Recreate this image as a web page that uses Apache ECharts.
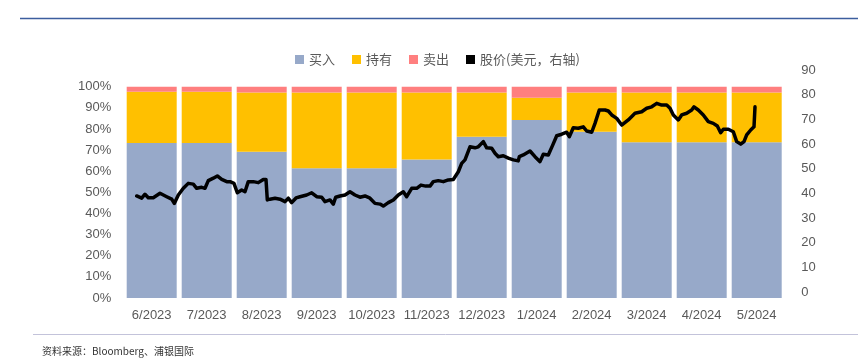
<!DOCTYPE html>
<html>
<head>
<meta charset="utf-8">
<script src="https://cdn.jsdelivr.net/npm/echarts@6/dist/echarts.min.js"></script>
<style>html,body{margin:0;padding:0;background:#fff;}#c{width:858px;height:362px;}</style>
</head>
<body>
<div id="c"></div>
<script>
var categories = ['6/2023','7/2023','8/2023','9/2023','10/2023','11/2023','12/2023','1/2024','2/2024','3/2024','4/2024','5/2024'];
var buyPct  = [73.4, 73.4, 69.2, 61.4, 61.4, 65.6, 76.3, 84.2, 78.7, 73.7, 73.7, 73.7];
var holdPct = [24.2, 24.2, 28.1, 35.9, 35.9, 31.7, 21.0, 10.6, 18.6, 23.6, 23.6, 23.6];
var sellPct = [2.4, 2.4, 2.7, 2.7, 2.7, 2.7, 2.7, 5.2, 2.7, 2.7, 2.7, 2.7];
var leftTicks = [0, 10, 20, 30, 40, 50, 60, 70, 80, 90, 100];
var rightTicks = [0, 10, 20, 30, 40, 50, 60, 70, 80, 90];
// price line: time position in months since start of June 2023, and price (USD)
var priceT = [0.227,0.318,0.378,0.438,0.529,0.651,0.773,0.864,0.911,0.984,1.075,1.165,1.256,1.318,1.409,1.469,1.529,1.62,1.693,1.773,1.864,1.924,1.996,2.056,2.136,2.196,2.256,2.347,2.438,2.529,2.578,2.602,2.651,2.742,2.833,2.924,2.984,3.045,3.124,3.196,3.318,3.409,3.5,3.591,3.651,3.742,3.802,3.845,3.924,4.015,4.105,4.196,4.287,4.378,4.469,4.56,4.651,4.711,4.802,4.893,4.984,5.075,5.136,5.227,5.318,5.396,5.482,5.56,5.62,5.711,5.802,5.893,5.984,6.075,6.136,6.196,6.287,6.378,6.438,6.529,6.591,6.682,6.742,6.802,6.893,6.984,7.075,7.165,7.184,7.256,7.378,7.469,7.56,7.62,7.711,7.791,7.864,7.955,8.045,8.093,8.165,8.256,8.347,8.409,8.5,8.56,8.638,8.742,8.802,8.864,8.955,9.045,9.165,9.287,9.409,9.5,9.591,9.682,9.773,9.864,9.924,9.984,10.075,10.136,10.227,10.318,10.36,10.438,10.529,10.62,10.711,10.784,10.845,10.893,10.984,11.075,11.136,11.209,11.269,11.318,11.391,11.451,11.469];
var priceV = [39.0,38.1,39.7,38.3,38.3,40.1,38.7,37.7,36.0,39.4,42.1,44.1,43.8,42.1,42.5,42.1,45.2,46.2,47.1,45.7,44.8,44.8,44.1,40.3,41.4,40.7,44.8,44.8,44.4,45.7,45.7,37.4,37.7,38.1,37.7,36.7,38.1,36.3,38.2,38.7,39.4,40.3,38.7,38.5,36.7,37.4,35.7,38.5,39.0,39.4,40.7,39.4,38.5,39.0,38.1,36.0,35.7,34.9,36.3,37.4,39.4,40.7,38.7,42.1,42.1,43.4,43.0,43.0,44.8,45.2,44.8,45.5,45.7,48.8,52.2,53.6,58.9,58.5,58.9,61.0,58.5,58.3,56.3,54.9,55.3,54.3,53.6,53.2,54.9,55.6,57.2,54.9,52.9,55.9,55.6,59.6,63.4,64.0,64.8,63.0,66.6,66.4,67.0,65.3,64.8,68.4,73.8,73.8,73.4,71.8,70.4,67.7,69.8,72.5,73.1,74.5,75.1,76.5,75.8,75.8,74.5,71.8,69.8,71.8,72.5,73.8,75.1,73.8,71.8,69.1,68.4,67.3,64.6,66.0,66.0,65.0,61.0,60.0,61.0,63.7,65.7,67.0,75.1];

var linePts = priceT.map(function (t, i) { return [t, priceV[i]]; });
var txt = '#595959';
var numFont = 'Liberation Sans';
var cjkFont = 'Noto Sans CJK SC';

var chart = echarts.init(document.getElementById('c'), null, {renderer: 'canvas'});
chart.setOption({
  backgroundColor: '#ffffff',
  animation: false,
  legend: {
    left: 290, top: 48,
    itemWidth: 9, itemHeight: 9, itemGap: 17,
    icon: 'rect',
    textStyle: {color: txt, fontSize: 13, fontFamily: cjkFont},
    data: ['买入', '持有', '卖出', '股价(美元，右轴)']
  },
  grid: [
    {left: 124.2, right: 73.8, top: 86.7, bottom: 64, containLabel: false},
    {left: 124.2, right: 73.8, top: 70, bottom: 69.7, containLabel: false}
  ],
  xAxis: [
    {
      type: 'category', gridIndex: 0, data: categories,
      axisLine: {show: false}, axisTick: {show: false},
      axisLabel: {color: txt, fontSize: 13, fontFamily: numFont, margin: 11, interval: 0}
    },
    {
      type: 'value', gridIndex: 1, min: 0, max: 12, show: false
    }
  ],
  yAxis: [
    {
      type: 'value', gridIndex: 0, min: leftTicks[0], max: leftTicks[leftTicks.length - 1], interval: 10,
      axisLine: {show: false}, axisTick: {show: false}, splitLine: {show: false},
      axisLabel: {color: txt, fontSize: 13, fontFamily: numFont, margin: 13, formatter: '{value}%'}
    },
    {
      type: 'value', gridIndex: 1, position: 'right', min: rightTicks[0], max: rightTicks[rightTicks.length - 1], interval: 10,
      axisLine: {show: false}, axisTick: {show: false}, splitLine: {show: false},
      axisLabel: {color: txt, fontSize: 13, fontFamily: numFont, margin: 17, align: 'left'}
    }
  ],
  series: [
    {name: '买入', type: 'bar', stack: 'p', xAxisIndex: 0, yAxisIndex: 0, barWidth: 50, data: buyPct,
     itemStyle: {color: '#97A9C9'}},
    {name: '持有', type: 'bar', stack: 'p', xAxisIndex: 0, yAxisIndex: 0, barWidth: 50, data: holdPct,
     itemStyle: {color: '#FFC000'}},
    {name: '卖出', type: 'bar', stack: 'p', xAxisIndex: 0, yAxisIndex: 0, barWidth: 50, data: sellPct,
     itemStyle: {color: '#FF7F7F'}},
    {name: '股价(美元，右轴)', type: 'line', xAxisIndex: 1, yAxisIndex: 1, data: linePts,
     symbol: 'none', smooth: false, itemStyle: {color: '#000000'},
     lineStyle: {color: '#000000', width: 3.5, join: 'round', cap: 'round'}, z: 5}
  ],
  graphic: [
    {type: 'line', shape: {x1: 20, y1: 18.5, x2: 858, y2: 18.5}, style: {stroke: '#3C5E9E', lineWidth: 1.5}},
    {type: 'line', shape: {x1: 33, y1: 334.5, x2: 858, y2: 334.5}, style: {stroke: '#C3C3DA', lineWidth: 1}},
    {type: 'text', left: 42, top: 346, style: {text: '资料来源：Bloomberg、浦银国际', fill: '#333333', fontSize: 10, fontFamily: cjkFont}}
  ]
});
</script>
</body>
</html>
